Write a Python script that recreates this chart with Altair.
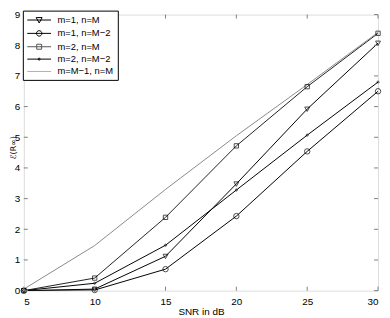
import altair as alt
import pandas as pd

snr = [5, 10, 15, 20, 25, 30]
series_names = ["m=1, n=M", "m=1, n=M\u22122", "m=2, n=M", "m=2, n=M\u22122", "m=M\u22121, n=M"]
m1_nM = [0.0, 0.05, 1.12, 3.48, 5.92, 8.07]
m1_nM2 = [0.0, 0.02, 0.70, 2.43, 4.54, 6.50]
m2_nM = [0.0, 0.41, 2.39, 4.72, 6.65, 8.39]
m2_nM2 = [0.0, 0.24, 1.48, 3.28, 5.07, 6.80]
mM1_nM = [0.05, 1.47, 3.30, 5.05, 6.72, 8.42]
x_ticks = [5, 10, 15, 20, 25, 30]
y_ticks = [0, 1, 2, 3, 4, 5, 6, 7, 8, 9]

values = [m1_nM, m1_nM2, m2_nM, m2_nM2, mM1_nM]
rows = []
for name, vals in zip(series_names, values):
    for s, v in zip(snr, vals):
        rows.append({"snr": s, "val": v, "series": name, "label": name})
df = pd.DataFrame(rows)
df_marks = df[df["series"] != series_names[4]]
xt = pd.DataFrame({"t": x_ticks})
yt = pd.DataFrame({"t": y_ticks})

W, H = 358, 279
AX = "#808080"
FONT = "Liberation Sans"

xs = alt.Scale(domain=[5, 30], nice=False)
ys = alt.Scale(domain=[0, 9], nice=False)

xaxis = alt.Axis(values=x_ticks, title="SNR in dB", domain=False, ticks=False, grid=False,
                 labelFont=FONT, labelFontSize=10, labelColor="black", labelPadding=6,
                 labelOverlap=False,
                 titleFont=FONT, titleFontSize=10, titleFontWeight="normal", titlePadding=0)
yaxis = alt.Axis(values=y_ticks, title="\u2130(R\u221e)", domain=False, ticks=False, grid=False,
                 labelFont=FONT, labelFontSize=10, labelColor="black", labelPadding=4,
                 labelOverlap=False,
                 titleFont="DejaVu Sans", titleFontSize=8, titleFontWeight="normal",
                 titleX=-10, titleY=134, titleBaseline="middle", titleAlign="center", titleAngle=270)

X = alt.X("snr:Q", scale=xs, axis=xaxis)
Y = alt.Y("val:Q", scale=ys, axis=yaxis)

base = alt.Chart(df)

lines = base.mark_line(clip=True).encode(
    x=X, y=Y,
    stroke=alt.Stroke("series:N", scale=alt.Scale(domain=series_names,
                      range=["black", "black", "#222222", "black", "#8a8a8a"]), legend=None),
    strokeWidth=alt.StrokeWidth("series:N", scale=alt.Scale(domain=series_names,
                      range=[1, 1, 1, 1, 0.8]), legend=None),
    detail="series:N",
)

marker_shapes = [
    "M-0.9,-0.75L0.9,-0.75L0,0.9Z",
    "circle",
    "M-0.8,-0.8H0.8V0.8H-0.8Z",
    "M0.4,0A0.4,0.4,0,1,1,-0.4,0A0.4,0.4,0,1,1,0.4,0",
]
markers = alt.Chart(df_marks).mark_point(filled=False, size=30, strokeWidth=1, color="black").encode(
    x=X, y=Y,
    shape=alt.Shape("series:N", scale=alt.Scale(domain=series_names[:4], range=marker_shapes), legend=None),
)

legend_shapes = [
    "M-2.4,0H2.4M-0.6,-0.5L0.6,-0.5L0,0.6Z",
    "M-2.4,0H2.4M0.55,0A0.55,0.55,0,1,1,-0.55,0A0.55,0.55,0,1,1,0.55,0",
    "M-2.4,0H2.4M-0.5,-0.5H0.5V0.5H-0.5Z",
    "M-2.4,0H2.4M0.2,0A0.2,0.2,0,1,1,-0.2,0A0.2,0.2,0,1,1,0.2,0",
    "M-2.4,0H2.4",
]
leg = alt.Legend(title=None, orient="none", legendX=-1, legendY=-4,
                 strokeColor="black", fillColor="white", padding=4,
                 symbolSize=100, symbolOffset=7, labelOffset=13, symbolStrokeWidth=1,
                 symbolOpacity=1, symbolFillColor="transparent",
                 labelFont=FONT, labelFontSize=9.5, labelColor="black", rowPadding=2.5, cornerRadius=0)
legend_layer = base.mark_point(opacity=0, filled=False, size=100).encode(
    x=X, y=Y,
    shape=alt.Shape("label:N", scale=alt.Scale(domain=series_names, range=legend_shapes), legend=leg),
    stroke=alt.Stroke("label:N", scale=alt.Scale(domain=series_names,
                      range=["black", "black", "#555555", "black", "#b0b0b0"]), legend=leg),
)

XT = alt.X("t:Q", scale=xs, axis=xaxis)
YT = alt.Y("t:Q", scale=ys, axis=yaxis)
tb = alt.Chart(xt).mark_rule(color=AX, strokeWidth=1).encode(x=XT, y=alt.value(H), y2=alt.value(H - 4))
tt = alt.Chart(xt).mark_rule(color=AX, strokeWidth=1).encode(x=XT, y=alt.value(0), y2=alt.value(4))
tl = alt.Chart(yt).mark_rule(color=AX, strokeWidth=1).encode(y=YT, x=alt.value(0), x2=alt.value(4))
tr = alt.Chart(yt).mark_rule(color=AX, strokeWidth=1).encode(y=YT, x=alt.value(W), x2=alt.value(W - 4))

chart = alt.layer(lines, markers, legend_layer, tb, tt, tl, tr).properties(
    width=W, height=H,
    autosize=alt.AutoSizeParams(type="none"),
    padding={"left": 16, "top": 5, "right": 4, "bottom": 26},
).resolve_scale(shape="independent", stroke="independent").configure_view(
    stroke=AX, strokeWidth=1.3
).configure(background="white")

chart.save("out.html", embed_options={"renderer": "svg", "actions": False})
